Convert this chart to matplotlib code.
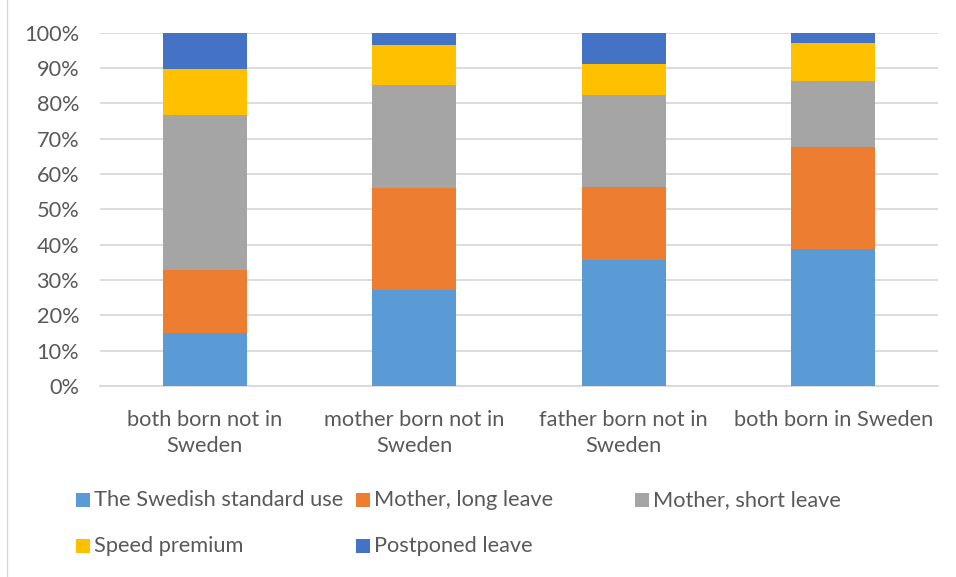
import numpy as np
import matplotlib.pyplot as plt
from matplotlib.patches import Rectangle
from matplotlib.lines import Line2D

categories = ['both born not in\nSweden', 'mother born not in\nSweden',
              'father born not in\nSweden', 'both born in Sweden']
series = ['The Swedish standard use', 'Mother, long leave', 'Mother, short leave',
          'Speed premium', 'Postponed leave']
standard = [14.9, 27.1, 35.6, 38.7]
long_leave = [17.8, 28.9, 20.6, 28.9]
short_leave = [44.0, 29.3, 26.2, 18.8]
speed = [12.9, 11.2, 8.7, 10.6]
postponed = [10.4, 3.5, 8.9, 3.0]
colors = ['#5B9BD5', '#ED7D31', '#A5A5A5', '#FFC000', '#4472C4']

font = 'Lato'
fsize = 15.7
txt_col = '#595959'

def main():
    values = np.array([standard, long_leave, short_leave, speed, postponed])
    shares = values / values.sum(axis=0)

    fig = plt.figure(figsize=(9.56, 5.77), dpi=100)
    W, H = 956, 577
    ax = fig.add_axes([100 / W, 1 - 386 / H, 838 / W, (386 - 32.7) / H])

    x = np.arange(len(categories))
    bottom = np.zeros(len(categories))
    for row, col in zip(shares, colors):
        ax.bar(x, row, 0.4, bottom=bottom, color=col, zorder=3)
        bottom += row

    ax.set_xlim(-0.5, len(categories) - 0.5)
    ax.set_ylim(0, 1)
    ax.set_yticks(np.arange(0, 1.01, 0.1))
    ax.set_yticklabels([f'{int(round(t * 100))}%' for t in ax.get_yticks()],
                       fontfamily=font, fontsize=fsize, color=txt_col)
    ax.set_xticks(x)
    ax.set_xticklabels(categories, fontfamily=font, fontsize=fsize, color=txt_col,
                       linespacing=1.4)
    ax.tick_params(axis='y', length=0, pad=15)
    ax.tick_params(axis='x', length=0, pad=17)
    ax.grid(axis='y', color='#D9D9D9', linewidth=1.3, zorder=0)
    for s in ['top', 'right', 'left']:
        ax.spines[s].set_visible(False)
    ax.spines['bottom'].set_color('#D9D9D9')
    ax.spines['bottom'].set_linewidth(1.3)

    # legend laid out like Excel: equal width columns, 3 per row
    for i, (name, col) in enumerate(zip(series, colors)):
        r, c = divmod(i, 3)
        lx = 83 + c * 279.5
        ly = 500 + r * 46
        fig.patches.append(Rectangle(((lx - 7) / W, 1 - (ly + 7) / H), 14 / W, 14 / H,
                                     transform=fig.transFigure, facecolor=col,
                                     edgecolor='none'))
        fig.text((lx + 11) / W, 1 - ly / H, name, fontfamily=font, fontsize=fsize,
                 color=txt_col, va='center', ha='left')

    fig.lines.append(Line2D([7 / W, 7 / W], [0, 1], transform=fig.transFigure,
                            color='#D9D9D9', linewidth=1))

    fig.savefig('out.png', dpi=100)

if __name__ == '__main__':
    main()
